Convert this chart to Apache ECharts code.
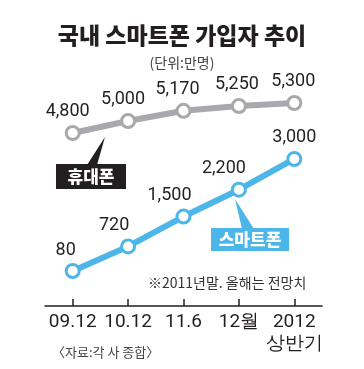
<!DOCTYPE html>
<html><head><meta charset="utf-8">
<script src="https://cdn.jsdelivr.net/npm/echarts@6/dist/echarts.min.js"></script>
<style>html,body{margin:0;padding:0;background:#fff}#c{width:364px;height:369px}</style>
</head><body><div id="c"></div>
<script>
var categories = ['09.12', '10.12', '11.6', '12월', '2012\n상반기'];
var mobileValues = [4800, 5000, 5170, 5250, 5300];
var smartValues = [80, 720, 1500, 2200, 3000];
var mobileLabelShift = [-5, -5, -6, -2, -1];
var smartLabelShift = [-7, -14, -14, -15, 0];

var KR = '"Noto Sans CJK KR", sans-serif';
var NUM = 'Roboto, "Noto Sans", sans-serif';
var GRAY = '#a7a9ac', BLUE = '#4db6e8', INK = '#231f20';

function build(vals, shifts, axisIdx, color) {
  return {
    type: 'line', yAxisIndex: axisIdx,
    data: vals.map(function (v, i) {
      return { value: v, label: { offset: [shifts[i], 0] } };
    }),
    symbol: 'circle', symbolSize: 13,
    lineStyle: { color: color, width: 6 },
    itemStyle: { color: '#fff', borderColor: color, borderWidth: 3 },
    label: {
      show: true, position: 'top', distance: 4,
      fontFamily: NUM, fontSize: 18, color: INK,
      formatter: function (p) { return p.value.toLocaleString('en-US'); }
    },
    z: 3
  };
}

var chart = echarts.init(document.getElementById('c'), null, { renderer: 'canvas' });
chart.setOption({
  animation: false,
  title: {
    text: '국내 스마트폰 가입자 추이', left: 'center', top: 19,
    textStyle: { fontFamily: KR, fontSize: 23, fontWeight: 900, color: INK }
  },
  grid: { left: 45, right: 42, top: 80, bottom: 63 },
  xAxis: {
    type: 'category', data: categories, boundaryGap: true,
    axisLine: { show: true, onZero: false, lineStyle: { color: INK, width: 1.5 } },
    axisTick: { show: true, alignWithLabel: true, interval: 0, inside: true, length: 7, lineStyle: { color: INK, width: 1.5 } },
    axisLabel: { interval: 0, fontFamily: NUM, fontSize: 19, color: INK, margin: 5, lineHeight: 22 }
  },
  yAxis: [
    { type: 'value', min: 1917, max: 5683, show: false, splitLine: { show: false } },
    { type: 'value', min: -832, max: 5059, show: false, splitLine: { show: false } }
  ],
  series: [
    build(mobileValues, mobileLabelShift, 0, GRAY),
    build(smartValues, smartLabelShift, 1, BLUE)
  ],
  graphic: [
    { type: 'text', left: 'center', top: 56, style: { text: '(단위:만명)', fontFamily: KR, fontSize: 14, fill: '#444' } },
    { type: 'polygon', shape: { points: [[105, 137], [87, 165], [97, 165]] }, style: { fill: INK } },
    { type: 'rect', shape: { x: 56, y: 164, width: 70, height: 25 }, style: { fill: INK } },
    { type: 'text', x: 91, y: 176.5, style: { text: '휴대폰', fontFamily: KR, fontSize: 17, fontWeight: 900, fill: '#fff', align: 'center', verticalAlign: 'middle' } },
    { type: 'polygon', shape: { points: [[235, 199], [242, 229], [254, 229]] }, style: { fill: BLUE } },
    { type: 'rect', shape: { x: 211, y: 228, width: 78, height: 23 }, style: { fill: BLUE } },
    { type: 'text', x: 250, y: 239.5, style: { text: '스마트폰', fontFamily: KR, fontSize: 17, fontWeight: 900, fill: '#fff', align: 'center', verticalAlign: 'middle' } },
    { type: 'text', x: 148, y: 283, style: { text: '※2011년말. 올해는 전망치', fontFamily: KR, fontSize: 14, fill: '#333', verticalAlign: 'middle' } },
    { type: 'text', x: 52, y: 352, style: { text: '〈자료:각 사 종합〉', fontFamily: KR, fontSize: 13, fill: '#444', verticalAlign: 'middle' } }
  ]
});
</script></body></html>
